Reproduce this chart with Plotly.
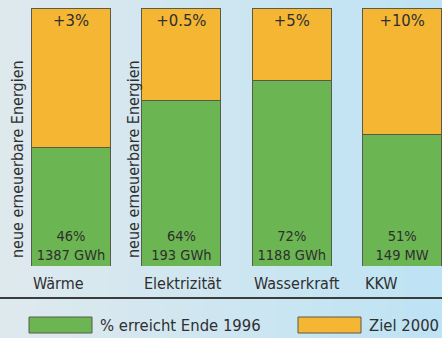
import plotly.graph_objects as go

# Anteil neuer erneuerbarer Energien: erreicht Ende 1996 vs. Ziel 2000
kategorien = ["Wärme", "Elektrizität", "Wasserkraft", "KKW"]
erreicht_pct = [46, 64, 72, 51]
rest_bis_ziel = [54, 36, 28, 49]
erreicht_menge = ["1387 GWh", "193 GWh", "1188 GWh", "149 MW"]
ziel_zuwachs = ["+3%", "+0.5%", "+5%", "+10%"]

W, H = 442, 338
FONT = "DejaVu Sans Condensed, Liberation Sans Narrow, Arial Narrow, sans-serif"
TXT = "#2f2f2f"
GREEN = "#6bb552"
ORANGE = "#f4b633"
EDGE = "#5a5a4a"

xs = list(range(len(kategorien)))
bar_w = 0.716

fig = go.Figure()
fig.add_trace(go.Bar(
    x=xs, y=erreicht_pct, width=bar_w,
    marker=dict(color=GREEN, line=dict(color=EDGE, width=1)),
    text=[f"{p}%<br>{m}" for p, m in zip(erreicht_pct, erreicht_menge)],
    textposition="inside", insidetextanchor="start", textangle=0,
    insidetextfont=dict(family=FONT, size=14.5, color=TXT),
    constraintext="none", cliponaxis=False, showlegend=False,
))
fig.add_trace(go.Bar(
    x=xs, y=rest_bis_ziel, width=bar_w,
    marker=dict(color=ORANGE, line=dict(color=EDGE, width=1)),
    text=ziel_zuwachs,
    textposition="inside", insidetextanchor="end", textangle=0,
    insidetextfont=dict(family=FONT, size=16.5, color=TXT),
    constraintext="none", cliponaxis=False, showlegend=False,
))

# soft horizontal background gradient
shapes = []
n = 24
c0 = (222, 233, 238)
c1 = (190, 227, 244)
for i in range(n):
    t = i / (n - 1)
    col = tuple(round(a + (b - a) * t) for a, b in zip(c0, c1))
    shapes.append(dict(type="rect", xref="paper", yref="paper",
                       x0=i / n, x1=(i + 1) / n + 0.002, y0=0, y1=1,
                       fillcolor="rgb(%d,%d,%d)" % col, line=dict(width=0),
                       layer="below"))

# separator line above the legend
shapes.append(dict(type="line", xref="paper", yref="paper",
                   x0=0, x1=1, y0=(H - 298) / H, y1=(H - 298) / H,
                   line=dict(color="#3c3c3c", width=2)))

# legend boxes
for x0, col in [(29, GREEN), (298, ORANGE)]:
    shapes.append(dict(type="rect", xref="paper", yref="paper",
                       x0=x0 / W, x1=(x0 + 63) / W,
                       y0=(H - 333) / H, y1=(H - 317) / H,
                       fillcolor=col, line=dict(color=EDGE, width=1)))

annotations = []
# rotated axis titles
for xp in [17, 133]:
    annotations.append(dict(text="neue erneuerbare Energien", textangle=-90,
                            xref="paper", yref="paper", x=xp / W, y=(H - 159) / H,
                            xanchor="center", yanchor="middle", showarrow=False,
                            font=dict(family=FONT, size=16, color=TXT)))
# category labels, left-aligned with each bar
for i, k in enumerate(kategorien):
    annotations.append(dict(text=k, xref="x", yref="paper",
                            x=i - bar_w / 2, y=(H - 283) / H,
                            xanchor="left", yanchor="middle", showarrow=False,
                            font=dict(family=FONT, size=16, color=TXT)))
# legend labels
for xp, label in [(98, "% erreicht Ende 1996"), (367, "Ziel 2000")]:
    annotations.append(dict(text=label, xref="paper", yref="paper",
                            x=xp / W, y=(H - 325) / H,
                            xanchor="left", yanchor="middle", showarrow=False,
                            font=dict(family=FONT, size=16.5, color=TXT)))

px_per_unit = 110.4
x_first = 71
fig.update_layout(
    width=W, height=H,
    margin=dict(l=0, r=0, t=0, b=0),
    barmode="stack",
    paper_bgcolor="rgb(206,230,241)",
    plot_bgcolor="rgba(0,0,0,0)",
    xaxis=dict(range=[-x_first / px_per_unit, (W - x_first) / px_per_unit],
               domain=[0, 1], visible=False, fixedrange=True),
    yaxis=dict(range=[0, 100], domain=[(H - 266) / H, (H - 8) / H],
               visible=False, fixedrange=True),
    shapes=shapes,
    annotations=annotations,
)

fig.write_html("out.html")
